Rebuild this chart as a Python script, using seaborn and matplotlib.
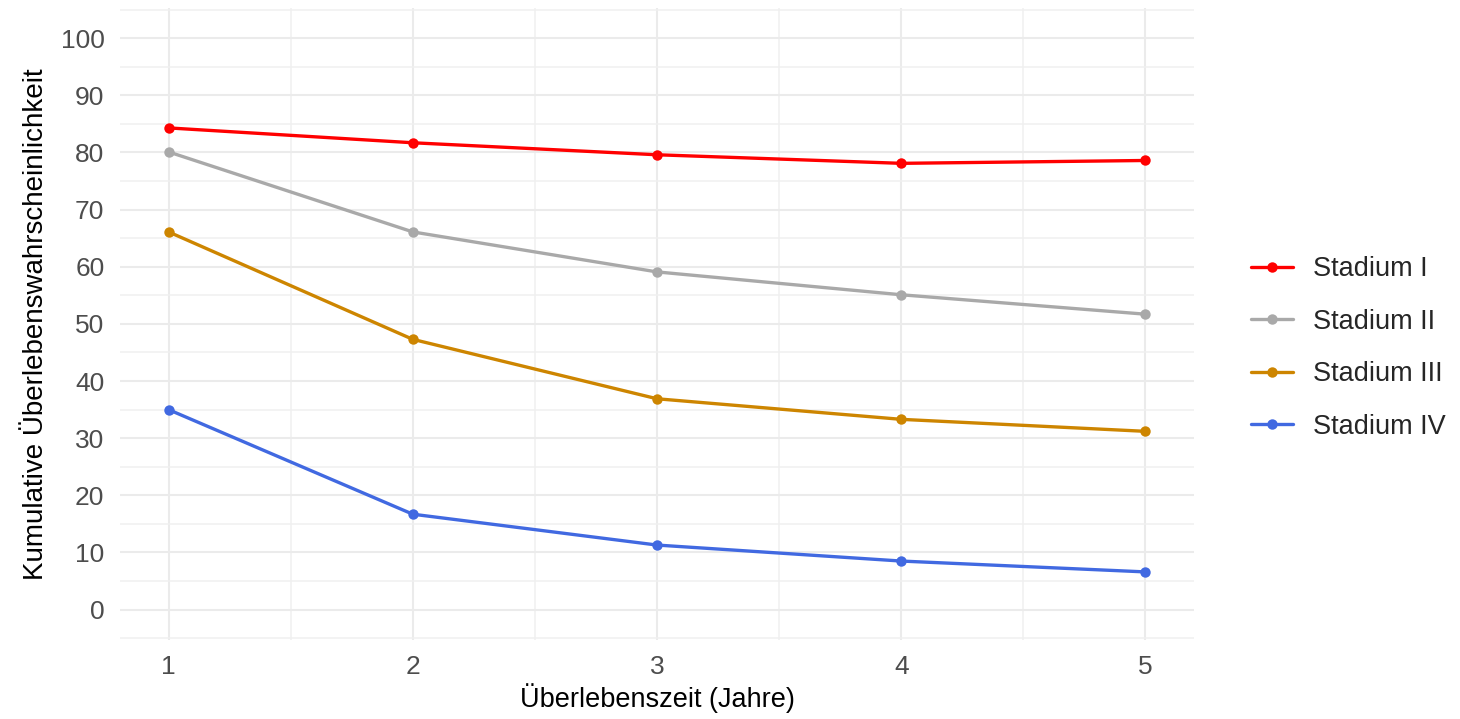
import pandas as pd
import seaborn as sns
import matplotlib.pyplot as plt
from matplotlib.ticker import MultipleLocator

years = [1, 2, 3, 4, 5]
stadium_1 = [84.3, 81.7, 79.6, 78.1, 78.6]
stadium_2 = [80.1, 66.1, 59.1, 55.1, 51.7]
stadium_3 = [66.1, 47.3, 36.9, 33.3, 31.2]
stadium_4 = [35.0, 16.7, 11.3, 8.5, 6.6]
labels = ["Stadium I", "Stadium II", "Stadium III", "Stadium IV"]
colors = ["#FF0000", "#A9A9A9", "#CD8500", "#4169E1"]

rows = []
for lab, vals in zip(labels, [stadium_1, stadium_2, stadium_3, stadium_4]):
    for x, v in zip(years, vals):
        rows.append({"Jahr": x, "Wert": v, "Stadium": lab})
df = pd.DataFrame(rows)

sns.set_theme(style="white")
plt.rcParams['font.family'] = ['Liberation Sans', 'DejaVu Sans']

fig = plt.figure(figsize=(14.6, 7.19), dpi=100)
ax = fig.add_axes([0.082, 0.11, 0.736, 0.879])

sns.lineplot(data=df, x="Jahr", y="Wert", hue="Stadium", hue_order=labels,
             palette=colors, marker="o", markersize=7.5, markeredgewidth=0,
             linewidth=2.4, ax=ax)

ax.set_xlim(0.8, 5.2)
ax.set_ylim(-5.3, 105.3)
ax.xaxis.set_major_locator(MultipleLocator(1))
ax.xaxis.set_minor_locator(MultipleLocator(0.5))
ax.yaxis.set_major_locator(MultipleLocator(10))
ax.yaxis.set_minor_locator(MultipleLocator(5))
ax.grid(which="major", color="#EBEBEB", linewidth=1.5)
ax.grid(which="minor", color="#F0F0F0", linewidth=1.1)
ax.set_axisbelow(True)
for s in ax.spines.values():
    s.set_visible(False)
ax.tick_params(which="both", length=0, labelsize=19, labelcolor="#4D4D4D", pad=11)
ax.set_xlabel("Überlebenszeit (Jahre)", fontsize=19.5, color="black", labelpad=3)
ax.set_ylabel("Kumulative Überlebenswahrscheinlichkeit", fontsize=20, color="black", labelpad=8)

leg = ax.legend(loc="center left", bbox_to_anchor=(1.03, 0.462), frameon=False,
                fontsize=19.5, handlelength=1.55, labelspacing=0.98, handletextpad=0.75)

fig.savefig("out.png", dpi=100)
